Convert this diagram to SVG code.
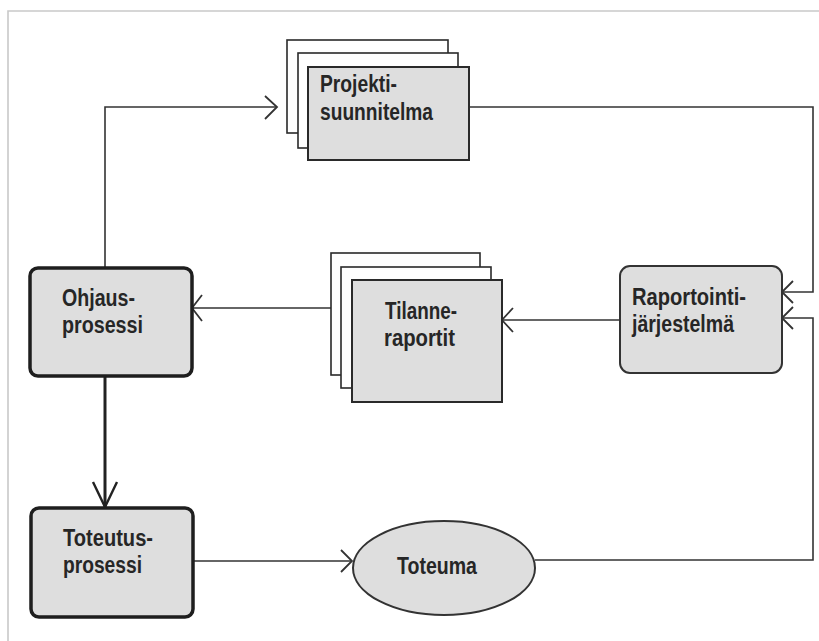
<svg xmlns="http://www.w3.org/2000/svg" width="819" height="641" viewBox="0 0 819 641">
<style>
.doc{fill:#ffffff;stroke:#2a2a2a;stroke-width:1.6}
.docf{fill:#dedede;stroke:#2a2a2a;stroke-width:2}
.proc{fill:#dedede;stroke:#1e1e1e;stroke-width:3.5}
.sys{fill:#dedede;stroke:#333333;stroke-width:2}
.lbl{font-family:"Liberation Sans",Arial,sans-serif;font-weight:bold;font-size:23px;fill:#262626}
.ln{fill:none;stroke:#333333;stroke-width:1.6}
.lnb{fill:none;stroke:#222222;stroke-width:3}
.ah{fill:none;stroke:#333333;stroke-width:1.8}
.ahb{fill:none;stroke:#222222;stroke-width:2.4}
</style>
<rect width="819" height="641" fill="#ffffff"/>
<path d="M8,641 V11 H819" fill="none" stroke="#c9c9c9" stroke-width="1.6"/>

<g id="connectors">
  <!-- Ohjaus -> Projektisuunnitelma -->
  <path class="ln" d="M105,268 V107 H277"/>
  <path class="ah" d="M265,96 L277,107 L265,119"/>
  <!-- Projektisuunnitelma -> Raportointi -->
  <path class="ln" d="M469,107 H813 V292 H782"/>
  <path class="ah" d="M793,281 L782,292 L793,303"/>
  <!-- Toteuma -> Raportointi -->
  <path class="ln" d="M535,560 H813 V318 H782"/>
  <path class="ah" d="M793,307 L782,318 L793,329"/>
  <!-- Raportointi -> Tilanneraportit -->
  <path class="ln" d="M620,320 H502"/>
  <path class="ah" d="M513,308 L502,320 L513,332"/>
  <!-- Tilanneraportit -> Ohjaus -->
  <path class="ln" d="M331,308 H192"/>
  <path class="ah" d="M202,295 L192,308 L202,321"/>
  <!-- Ohjaus -> Toteutus -->
  <path class="lnb" d="M105,376 V507"/>
  <path class="ahb" d="M93,482 L105,507 L117,482"/>
  <!-- Toteutus -> Toteuma -->
  <path class="ln" d="M193,561 H352"/>
  <path class="ah" d="M341,550 L352,561 L341,572"/>
</g>

<g id="projektisuunnitelma">
  <rect class="doc" x="287" y="40" width="161" height="93"/>
  <rect class="doc" x="298" y="53" width="160" height="95"/>
  <rect class="docf" x="308" y="67" width="161" height="93"/>
  <text class="lbl" x="320" y="92" textLength="77" lengthAdjust="spacingAndGlyphs">Projekti-</text>
  <text class="lbl" x="320" y="120" textLength="113" lengthAdjust="spacingAndGlyphs">suunnitelma</text>
</g>

<g id="tilanneraportit">
  <rect class="doc" x="331" y="253" width="149" height="122"/>
  <rect class="doc" x="341" y="267" width="150" height="121"/>
  <rect class="docf" x="352" y="280" width="150" height="122"/>
  <text class="lbl" x="385" y="319" textLength="72" lengthAdjust="spacingAndGlyphs">Tilanne-</text>
  <text class="lbl" x="384" y="346" textLength="71" lengthAdjust="spacingAndGlyphs">raportit</text>
</g>

<g id="raportointijarjestelma">
  <rect class="sys" x="620" y="266" width="162" height="107" rx="10" ry="10"/>
  <text class="lbl" x="632" y="305" textLength="114" lengthAdjust="spacingAndGlyphs">Raportointi-</text>
  <text class="lbl" x="632" y="332" textLength="102" lengthAdjust="spacingAndGlyphs">järjestelmä</text>
</g>

<g id="ohjausprosessi">
  <rect class="proc" x="30" y="268" width="162" height="108" rx="8" ry="8"/>
  <text class="lbl" x="62" y="306" textLength="73" lengthAdjust="spacingAndGlyphs">Ohjaus-</text>
  <text class="lbl" x="62" y="333" textLength="81" lengthAdjust="spacingAndGlyphs">prosessi</text>
</g>

<g id="toteutusprosessi">
  <rect class="proc" x="31" y="508" width="162" height="109" rx="8" ry="8"/>
  <text class="lbl" x="63" y="546" textLength="90" lengthAdjust="spacingAndGlyphs">Toteutus-</text>
  <text class="lbl" x="63" y="573" textLength="79" lengthAdjust="spacingAndGlyphs">prosessi</text>
</g>

<g id="toteuma">
  <ellipse class="sys" cx="444" cy="568" rx="91" ry="47"/>
  <text class="lbl" x="397" y="574" textLength="80" lengthAdjust="spacingAndGlyphs">Toteuma</text>
</g>
</svg>
